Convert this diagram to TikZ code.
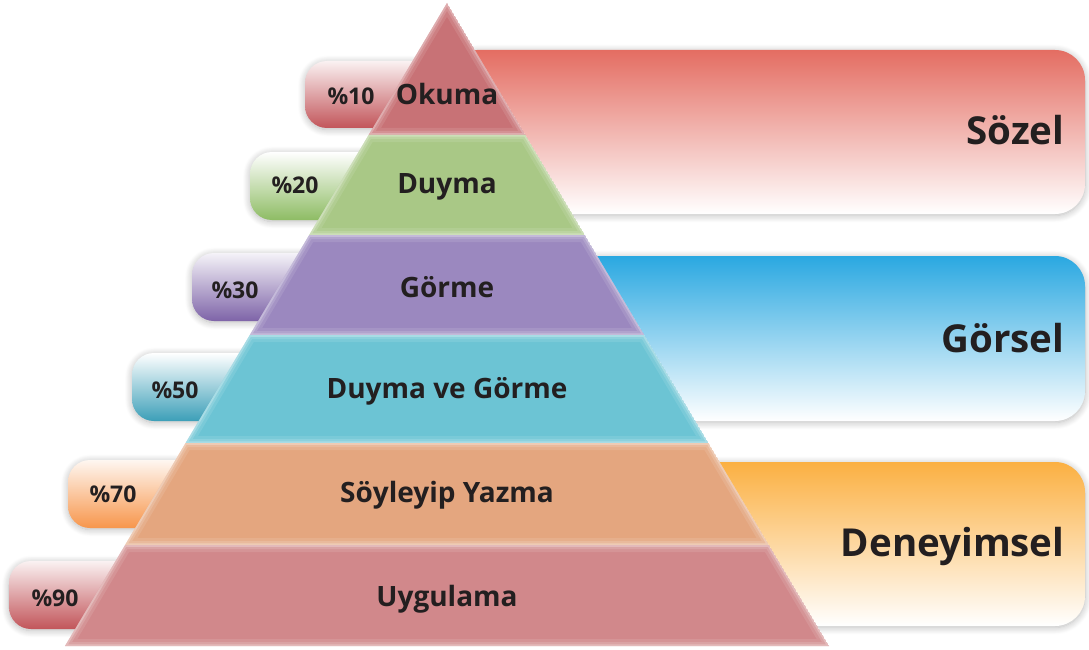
\documentclass[tikz,border=0pt]{standalone}
\usepackage{fontspec}
\setmainfont{Open Sans}
\usetikzlibrary{shadows.blur}

\definecolor{ink}{HTML}{231F20}
% pyramid layer fills
\definecolor{cOkuma}{HTML}{C87276}
\definecolor{cDuyma}{HTML}{A9C886}
\definecolor{cGorme}{HTML}{9B88BF}
\definecolor{cDuGo}{HTML}{6CC4D4}
\definecolor{cSoyle}{HTML}{E4A67F}
\definecolor{cUyg}{HTML}{D1888B}
% side bands
\definecolor{bRedTop}{HTML}{E46D62}
\definecolor{bRedMid}{HTML}{EFA692}
\definecolor{bBlueTop}{HTML}{2AA8E1}
\definecolor{bBlueMid}{HTML}{8CC6EC}
\definecolor{bOrTop}{HTML}{FBB042}
\definecolor{bOrMid}{HTML}{FDD49C}
% percentage tabs
\definecolor{tRed}{HTML}{C2555A}
\definecolor{tGreen}{HTML}{8EBC64}
\definecolor{tPurple}{HTML}{7E64A8}
\definecolor{tTeal}{HTML}{3C9FB8}
\definecolor{tOrange}{HTML}{F7964C}

\tikzset{
  softshadow/.style={blur shadow={shadow blur steps=10, shadow xshift=0pt,
      shadow yshift=-1.5pt, shadow opacity=28, shadow blur radius=7pt}},
  band/.style={softshadow, rounded corners=30pt},
  tab/.style={softshadow, rounded corners=22pt},
  tabtext/.style={text=ink, font=\fontsize{23}{26}\selectfont\bfseries, anchor=base},
  layertext/.style={text=ink, font=\fontsize{28}{31}\selectfont\bfseries, anchor=base},
  bandtext/.style={text=ink, font=\fontsize{38.5}{44}\selectfont\bfseries, anchor=base east},
  glow/.style={draw=white, line join=miter},
}

% one pyramid layer: fill with a soft light inner rim
\newcommand{\pyrlayer}[2]{%
  \begin{scope}
    \clip #1;
    \fill[#2] #1;
    \draw[glow, line width=14pt, draw opacity=0.10] #1;
    \draw[glow, line width=8pt, draw opacity=0.14] #1;
    \draw[glow, line width=3.5pt, draw opacity=0.25] #1;
  \end{scope}}

\begin{document}
\begin{tikzpicture}[x=1pt,y=-1pt]
\useasboundingbox (0,0) rectangle (1089,650);

% ---- side bands ----
\path[band, top color=bRedTop, middle color=bRedMid, bottom color=white]
  (447,50) rectangle (1085,214);
\path[band, top color=bBlueTop, middle color=bBlueMid, bottom color=white]
  (447,256) rectangle (1085,421);
\path[band, top color=bOrTop, middle color=bOrMid, bottom color=white]
  (447,462) rectangle (1085,626);

% ---- percentage tabs ----
\path[tab, top color=white!92!tRed, middle color=white!45!tRed, bottom color=tRed]
  (305,61) rectangle (447,128);
\path[tab, top color=white, middle color=white!45!tGreen, bottom color=tGreen]
  (250,152) rectangle (447,220);
\path[tab, top color=white!92!tPurple, middle color=white!45!tPurple, bottom color=tPurple]
  (192,253) rectangle (447,321);
\path[tab, top color=white, middle color=white!45!tTeal, bottom color=tTeal]
  (132,353) rectangle (447,421);
\path[tab, top color=white!92!tOrange, middle color=white!45!tOrange, bottom color=tOrange]
  (68,460) rectangle (447,528);
\path[tab, top color=white!92!tRed, middle color=white!45!tRed, bottom color=tRed]
  (9,561) rectangle (447,629);

% ---- pyramid ----
\coordinate (apex) at (447,3);
\pyrlayer{(apex) -- (525.4,135) -- (368.6,135) -- cycle}{cOkuma}
\pyrlayer{(368.6,135) -- (525.4,135) -- (584.8,235) -- (309.2,235) -- cycle}{cDuyma}
\pyrlayer{(309.2,235) -- (584.8,235) -- (644.2,335) -- (249.8,335) -- cycle}{cGorme}
\pyrlayer{(249.8,335) -- (644.2,335) -- (708.4,443) -- (185.6,443) -- cycle}{cDuGo}
\pyrlayer{(185.6,443) -- (708.4,443) -- (768.9,545) -- (125.1,545) -- cycle}{cSoyle}
\pyrlayer{(125.1,545) -- (768.9,545) -- (829,646) -- (65,646) -- cycle}{cUyg}

% ---- labels (positions are baselines) ----
\node[tabtext] (p10) at (351,105) {\%10};
\node[tabtext] (p20) at (295,193) {\%20};
\node[tabtext] (p30) at (235,298) {\%30};
\node[tabtext] (p50) at (175,398) {\%50};
\node[tabtext] (p70) at (113,502) {\%70};
\node[tabtext] (p90) at (55,606) {\%90};

\node[layertext] (l1) at (447,105) {Okuma};
\node[layertext] (l2) at (447,193) {Duyma};
\node[layertext] (l3) at (447,297) {Görme};
\node[layertext] (l4) at (447,398) {Duyma ve Görme};
\node[layertext] (l5) at (447,502) {Söyleyip Yazma};
\node[layertext] (l6) at (447,606) {Uygulama};

\node[bandtext] (b1) at (1068,144) {Sözel};
\node[bandtext] (b2) at (1068,352) {Görsel};
\node[bandtext] (b3) at (1068,556) {Deneyimsel};
\end{tikzpicture}
\end{document}
